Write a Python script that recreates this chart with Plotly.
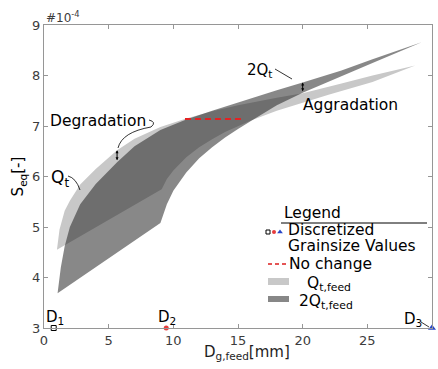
import plotly.graph_objects as go

# ---------------- data (S_eq in units of 1e-4) ----------------
# Q_t,feed region: upper edge and lower edge
qt_upper_x = [1.0, 1.2, 1.6, 2.0, 2.8, 4.0, 5.65, 7.0, 9.0, 11.0, 13.0, 15.0, 18.0, 20.0, 23.0, 25.4, 28.7]
qt_upper_y = [4.55, 4.95, 5.32, 5.52, 5.84, 6.15, 6.52, 6.75, 6.98, 7.15, 7.29, 7.41, 7.56, 7.65, 7.84, 8.0, 8.2]
qt_lower_x = [1.0, 9.1, 9.5, 10.0, 11.0, 12.0, 13.0, 14.0, 15.0, 16.0, 18.0, 20.0, 22.0, 25.4, 28.7]
qt_lower_y = [4.55, 5.75, 5.95, 6.12, 6.38, 6.58, 6.74, 6.88, 7.0, 7.11, 7.3, 7.46, 7.62, 7.87, 8.2]

# 2Q_t,feed region: upper edge and lower edge
q2_upper_x = [1.05, 1.3, 1.6, 2.0, 2.8, 4.0, 5.65, 7.0, 9.0, 11.0, 13.0, 15.0, 18.0, 20.0, 23.0, 25.4, 29.2]
q2_upper_y = [3.69, 4.2, 4.62, 5.0, 5.45, 5.85, 6.28, 6.6, 6.92, 7.13, 7.3, 7.47, 7.71, 7.86, 8.1, 8.32, 8.66]
q2_lower_x = [1.05, 9.0, 9.5, 10.0, 11.0, 12.0, 13.0, 14.0, 15.0, 16.0, 17.0, 18.0, 20.0, 22.0, 25.4, 29.2]
q2_lower_y = [3.69, 5.08, 5.45, 5.72, 6.08, 6.36, 6.58, 6.77, 6.94, 7.1, 7.26, 7.41, 7.66, 7.88, 8.25, 8.66]

# no change line
nochange_x = [10.9, 15.3]
nochange_y = [7.14, 7.14]

# discretized grain sizes
d_labels = ["D<sub>1</sub>", "D<sub>2</sub>", "D<sub>3</sub>"]
d_x = [0.75, 9.45, 30.0]
d_y = [3.0, 3.0, 3.0]

# arrows (x, y_low, y_high)
degr_arrow = (5.65, 6.29, 6.52)
aggr_arrow = (20.0, 7.66, 7.86)

x_ticks = [0, 5, 10, 15, 20, 25, 30]
y_ticks = [3, 4, 5, 6, 7, 8, 9]

# ---------------- layout helpers ----------------
W, H = 438, 369
L, R, T, B = 44, 6, 25, 41
X0, X1, Y0, Y1 = 0, 30, 3, 9
pw, ph = W - L - R, H - T - B


def px2x(px):
    return X0 + (px - L) / pw * (X1 - X0)


def py2y(py):
    return Y1 - (py - T) / ph * (Y1 - Y0)


FONT = "DejaVu Sans"
LIGHT = "rgb(200,200,200)"
DARK = "rgba(30,30,30,0.53)"
DARK_SOLID = "rgb(135,135,135)"
LBL = 15.5

fig = go.Figure()

fig.add_trace(go.Scatter(
    x=qt_upper_x + qt_lower_x[::-1], y=qt_upper_y + qt_lower_y[::-1],
    fill="toself", fillcolor=LIGHT, line=dict(width=0), mode="lines",
    hoverinfo="skip", showlegend=False))
fig.add_trace(go.Scatter(
    x=q2_upper_x + q2_lower_x[::-1], y=q2_upper_y + q2_lower_y[::-1],
    fill="toself", fillcolor=DARK, line=dict(width=0), mode="lines",
    hoverinfo="skip", showlegend=False))

fig.add_trace(go.Scatter(
    x=nochange_x, y=nochange_y, mode="lines",
    line=dict(color="rgb(225,35,35)", width=2, dash="6px,4px"),
    hoverinfo="skip", showlegend=False))

# D markers
fig.add_trace(go.Scatter(x=[d_x[0]], y=[d_y[0]], mode="markers", cliponaxis=False,
                         marker=dict(symbol="square-open", size=5, color="black", line=dict(width=1)),
                         showlegend=False, hoverinfo="skip"))
fig.add_trace(go.Scatter(x=[d_x[1]], y=[d_y[1]], mode="markers", cliponaxis=False,
                         marker=dict(symbol="circle", size=5, color="rgb(230,60,60)"),
                         showlegend=False, hoverinfo="skip"))
fig.add_trace(go.Scatter(x=[d_x[2]], y=[d_y[2]], mode="markers", cliponaxis=False,
                         marker=dict(symbol="triangle-up", size=7, color="rgb(40,70,200)"),
                         showlegend=False, hoverinfo="skip"))

ann = []
shapes = []

# D labels
ann.append(dict(x=px2x(55), y=py2y(317), text=d_labels[0], showarrow=False,
                font=dict(family=FONT, size=15, color="black")))
ann.append(dict(x=px2x(167), y=py2y(317), text=d_labels[1], showarrow=False,
                font=dict(family=FONT, size=15, color="black")))
ann.append(dict(x=px2x(413), y=py2y(319), text=d_labels[2], showarrow=False,
                font=dict(family=FONT, size=15, color="black")))
shapes.append(dict(type="line", xref="x", yref="y", x0=px2x(421), y0=py2y(322),
                   x1=px2x(429), y1=py2y(327), line=dict(color="black", width=0.8)))

# text labels on the chart
ann.append(dict(x=px2x(98), y=py2y(121), text="Degradation", showarrow=False,
                font=dict(family=FONT, size=LBL, color="black")))
ann.append(dict(x=px2x(350), y=py2y(105), text="Aggradation", showarrow=False,
                font=dict(family=FONT, size=LBL, color="black")))
ann.append(dict(x=px2x(60), y=py2y(178), text="Q<sub>t</sub>", showarrow=False,
                font=dict(family=FONT, size=17, color="black")))
ann.append(dict(x=px2x(259), y=py2y(70), text="2Q<sub>t</sub>", showarrow=False,
                font=dict(family=FONT, size=15, color="black")))

# leader lines
shapes.append(dict(type="path", xref="x", yref="y",
                   path="M %f,%f Q %f,%f %f,%f Q %f,%f %f,%f" % (
                       px2x(149), py2y(120), px2x(157), py2y(122), px2x(151), py2y(127),
                       px2x(122), py2y(132), px2x(118), py2y(148)),
                   line=dict(color="black", width=0.8)))
shapes.append(dict(type="path", xref="x", yref="y",
                   path="M %f,%f Q %f,%f %f,%f" % (
                       px2x(68), py2y(176), px2x(76), py2y(178), px2x(80), py2y(190)),
                   line=dict(color="black", width=0.8)))
shapes.append(dict(type="line", xref="x", yref="y", x0=px2x(275), y0=py2y(69),
                   x1=px2x(292), y1=py2y(79), line=dict(color="black", width=0.8)))

# double arrows
for (ax_, ylo, yhi) in (degr_arrow, aggr_arrow):
    ann.append(dict(x=ax_, y=yhi, ax=ax_, ay=ylo, xref="x", yref="y", axref="x", ayref="y",
                    text="", showarrow=True, arrowhead=2, arrowside="end+start",
                    arrowsize=0.6, arrowwidth=1, arrowcolor="black"))

# ---------------- custom legend ----------------
ann.append(dict(x=px2x(282), y=py2y(213), text="Legend", showarrow=False, xanchor="left",
                font=dict(family=FONT, size=LBL, color="black")))
shapes.append(dict(type="line", xref="x", yref="y", x0=px2x(281), y0=py2y(223),
                   x1=px2x(427), y1=py2y(223), line=dict(color="black", width=1)))
fig.add_trace(go.Scatter(x=[px2x(268)], y=[py2y(232)], mode="markers", cliponaxis=False,
                         marker=dict(symbol="square-open", size=4, color="black", line=dict(width=1)),
                         showlegend=False, hoverinfo="skip"))
fig.add_trace(go.Scatter(x=[px2x(274)], y=[py2y(232)], mode="markers", cliponaxis=False,
                         marker=dict(symbol="circle", size=4, color="rgb(230,60,60)"),
                         showlegend=False, hoverinfo="skip"))
fig.add_trace(go.Scatter(x=[px2x(280)], y=[py2y(232)], mode="markers", cliponaxis=False,
                         marker=dict(symbol="triangle-up", size=5, color="rgb(40,70,200)"),
                         showlegend=False, hoverinfo="skip"))
ann.append(dict(x=px2x(287), y=py2y(230), text="Discretized", showarrow=False, xanchor="left",
                borderpad=0, font=dict(family=FONT, size=LBL, color="black")))
ann.append(dict(x=px2x(287), y=py2y(246), text="Grainsize Values", showarrow=False, xanchor="left",
                borderpad=0, font=dict(family=FONT, size=LBL, color="black")))
shapes.append(dict(type="line", xref="x", yref="y", x0=px2x(268), y0=py2y(264),
                   x1=px2x(286), y1=py2y(264),
                   line=dict(color="rgb(220,30,30)", width=1.5, dash="4px,3px")))
ann.append(dict(x=px2x(287), y=py2y(264), text="No change", showarrow=False, xanchor="left",
                font=dict(family=FONT, size=LBL, color="black")))
shapes.append(dict(type="rect", xref="x", yref="y", x0=px2x(268), y0=py2y(285),
                   x1=px2x(289), y1=py2y(278), fillcolor=LIGHT, line=dict(width=0)))
ann.append(dict(x=px2x(305), y=py2y(284), text="Q<sub>t,feed</sub>", showarrow=False, xanchor="left",
                font=dict(family=FONT, size=LBL, color="black")))
shapes.append(dict(type="rect", xref="x", yref="y", x0=px2x(268), y0=py2y(302),
                   x1=px2x(289), y1=py2y(296), fillcolor=DARK_SOLID, line=dict(width=0)))
ann.append(dict(x=px2x(297), y=py2y(302), text="2Q<sub>t,feed</sub>", showarrow=False, xanchor="left",
                font=dict(family=FONT, size=LBL, color="black")))

# exponent label
ann.append(dict(x=0, y=1, xref="paper", yref="paper", xanchor="left", yanchor="bottom",
                text="#10<sup>-4</sup>", showarrow=False, yshift=-2,
                font=dict(family=FONT, size=12, color="rgb(60,60,60)")))

for a in ann:
    a.setdefault("xref", "x")
    a.setdefault("yref", "y")

# x axis title drawn as annotation (slightly right of centre as in the reference)
ann.append(dict(x=(247 - L) / pw, y=-(352 - T - ph) / ph, xref="paper", yref="paper",
                text="D<sub>g,feed</sub>[mm]", showarrow=False, yanchor="middle",
                font=dict(family=FONT, size=15, color="rgb(30,30,30)")))

axis_common = dict(showline=True, linecolor="rgb(150,150,150)", linewidth=1, mirror="ticks",
                   ticks="inside", ticklen=4, tickcolor="rgb(150,150,150)", showgrid=False,
                   zeroline=False, tickfont=dict(family=FONT, size=13, color="rgb(60,60,60)"))

fig.update_layout(
    width=W, height=H, margin=dict(l=L, r=R, t=T, b=B),
    plot_bgcolor="white", paper_bgcolor="white",
    xaxis=dict(range=[X0, X1], tickvals=x_ticks, ticktext=[str(v) for v in x_ticks],
               **axis_common),
    yaxis=dict(range=[Y0, Y1], tickvals=y_ticks, ticktext=[str(v) for v in y_ticks],
               title=dict(text="S<sub>eq</sub>[-]", standoff=4,
                          font=dict(family=FONT, size=15, color="black")),
               **axis_common),
    annotations=ann, shapes=shapes, showlegend=False,
)

fig.write_html("out.html")
